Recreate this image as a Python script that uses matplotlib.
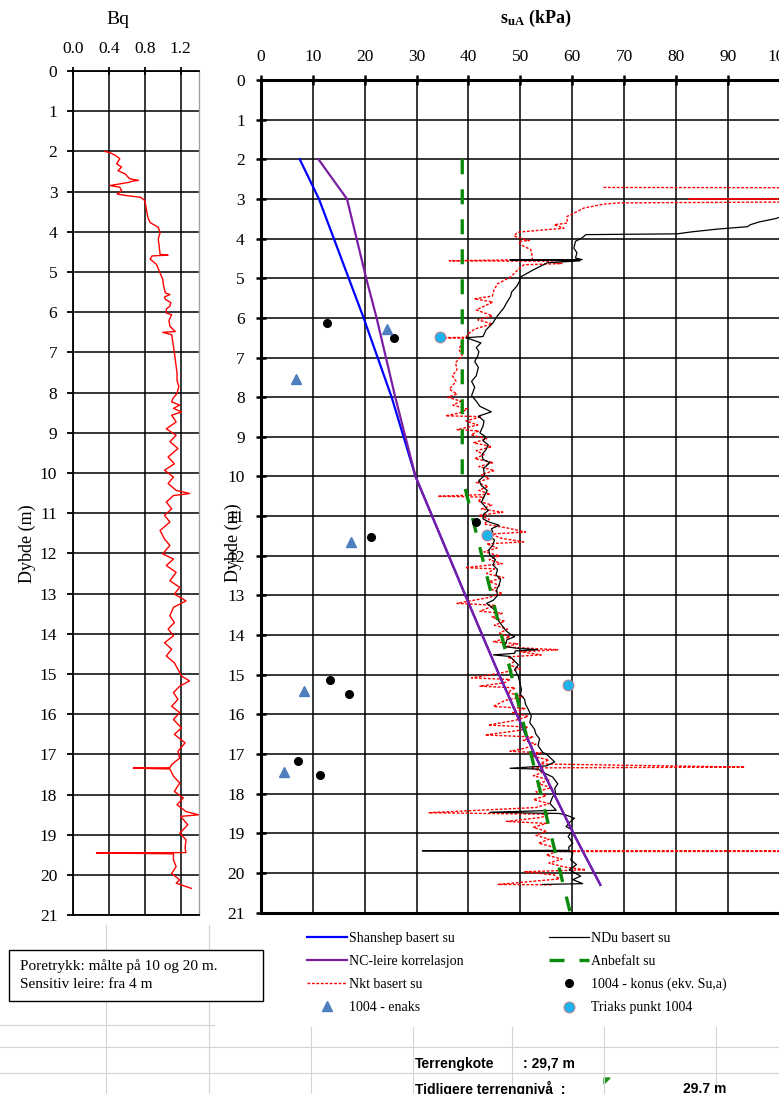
import matplotlib
matplotlib.use('Agg')
import matplotlib.pyplot as plt
from matplotlib.patches import Rectangle, Polygon

# ---------------- DATA ----------------
bq_depth = [2.00, 2.03, 2.10, 2.18, 2.31, 2.39, 2.48, 2.56, 2.68, 2.72, 2.74, 2.77, 2.85, 2.89, 2.98, 3.06, 3.10, 3.14,
            3.22, 3.35, 3.48, 3.60, 3.68, 3.77, 3.89, 4.02, 4.18, 4.35, 4.56, 4.58, 4.60, 4.68, 4.81, 5.02, 5.18, 5.35,
            5.52, 5.56, 5.62, 5.68, 5.76, 5.85, 5.92, 6.02, 6.06, 6.20, 6.35, 6.48, 6.50, 6.56, 6.70, 6.85, 7.00, 7.18,
            7.35, 7.52, 7.70, 7.85, 8.02, 8.14, 8.23, 8.31, 8.39, 8.48, 8.56, 8.73, 8.90, 9.06, 9.22, 9.39, 9.60, 9.77,
            9.93, 10.10, 10.26, 10.43, 10.51, 10.56, 10.72, 10.89, 11.05, 11.22, 11.43, 11.64, 11.80, 12.01, 12.14,
            12.30, 12.47, 12.68, 12.84, 13.01, 13.18, 13.34, 13.55, 13.72, 13.88, 14.05, 14.22, 14.38, 14.55, 14.72,
            14.88, 15.05, 15.17, 15.30, 15.46, 15.63, 15.80, 15.96, 16.13, 16.34, 16.50, 16.71, 16.92, 17.09, 17.25,
            17.33, 17.34, 17.36, 17.54, 17.71, 17.92, 18.08, 18.25, 18.42, 18.50, 18.54, 18.75, 18.96, 19.12, 19.33,
            19.44, 19.45, 19.47, 19.62, 19.79, 19.96, 20.12, 20.20, 20.33]
bq_value = [0.35, 0.41, 0.47, 0.52, 0.485, 0.54, 0.50, 0.58, 0.63, 0.73, 0.66, 0.62, 0.41, 0.52, 0.54, 0.49, 0.60, 0.75,
            0.80, 0.81, 0.82, 0.83, 0.84, 0.86, 0.95, 0.97, 0.95, 0.96, 0.97, 1.06, 0.88, 0.86, 0.93, 0.97, 1.00, 1.01,
            1.03, 1.08, 1.02, 1.03, 1.09, 1.08, 1.04, 1.04, 1.10, 1.07, 1.08, 1.14, 1.00, 1.10, 1.11, 1.12, 1.13, 1.14,
            1.15, 1.16, 1.16, 1.18, 1.16, 1.115, 1.10, 1.19, 1.12, 1.21, 1.10, 1.15, 1.04, 1.15, 1.08, 1.17, 1.06, 1.13,
            1.02, 1.12, 1.06, 1.15, 1.30, 1.12, 1.04, 1.10, 1.02, 1.08, 0.97, 1.02, 1.08, 1.00, 1.12,
            1.04, 1.15, 1.08, 1.19, 1.13, 1.26, 1.12, 1.08, 1.13, 1.06, 1.12, 1.02, 1.10, 1.04, 1.13,
            1.17, 1.21, 1.30, 1.19, 1.12, 1.17, 1.10, 1.19, 1.12, 1.21, 1.13, 1.25, 1.17, 1.19, 1.10,
            1.08, 0.67, 1.08, 1.12, 1.19, 1.13, 1.23, 1.16, 1.26, 1.40, 1.20, 1.28, 1.19, 1.26, 1.25,
            1.26, 0.26, 1.12, 1.12, 1.15, 1.10, 1.19, 1.15, 1.32]

shanshep_depth = [2.0, 3.0, 6.0, 8.0, 10.0, 13.0, 15.0, 17.0, 19.0, 20.3]
shanshep_su = [7.5, 11.2, 19.8, 25.2, 29.8, 39.4, 45.9, 52.7, 60.2, 65.4]

nc_depth = [2.0, 3.0, 5.0, 6.0, 8.0, 10.0, 13.0, 15.0, 17.0, 19.0, 20.3]
nc_su = [11.1, 16.6, 20.3, 22.3, 25.9, 29.8, 39.4, 45.9, 52.7, 60.2, 65.4]

anbefalt_depth = [2.0, 10.0, 21.0]
anbefalt_su = [38.8, 38.8, 59.6]

ndu_depth = [3.44, 3.50, 3.58, 3.65, 3.70, 3.76, 3.83, 3.88, 3.90, 3.98, 4.07, 4.24, 4.36, 4.49, 4.53, 4.54, 4.56,
             4.61, 4.78, 4.97, 5.08, 5.20, 5.35, 5.46, 5.63, 5.75, 5.88, 6.00, 6.13, 6.30, 6.47, 6.50, 6.52, 6.63,
             6.75, 6.85, 6.96, 7.10, 7.25, 7.46, 7.60, 7.75, 7.96, 8.10, 8.23, 8.37, 8.48, 8.60, 8.73, 8.90, 9.00,
             9.10, 9.20, 9.32, 9.45, 9.57, 9.65, 9.80, 9.98, 10.10, 10.23, 10.35, 10.48, 10.65, 10.86, 10.95, 11.07,
             11.15, 11.23, 11.32, 11.40, 11.48, 11.60, 11.73, 11.85, 11.98, 12.10, 12.23, 12.35, 12.48, 12.60, 12.73,
             12.87, 13.00, 13.12, 13.20, 13.37, 13.50, 13.62, 13.80, 13.90, 14.00, 14.04, 14.12, 14.29, 14.33, 14.37,
             14.40, 14.46, 14.50, 14.54, 14.58, 14.75, 14.87, 15.04, 15.21, 15.37, 15.50, 15.62, 15.75, 15.87, 16.04,
             16.21, 16.37, 16.50, 16.62, 16.79, 16.96, 17.00, 17.10, 17.20, 17.30, 17.36, 17.38, 17.46, 17.58, 17.75,
             17.87, 18.00, 18.08, 18.25, 18.42, 18.47, 18.50, 18.54, 18.62, 18.72, 18.83, 18.92, 19.08, 19.25, 19.35,
             19.43, 19.44, 19.46, 19.50, 19.67, 19.79, 19.92, 20.00, 20.08, 20.17, 20.27, 20.29]
ndu_su = [100.5, 99.0, 96.0, 94.3, 93.7, 88.0, 83.0, 80.2, 62.6, 61.9, 60.6, 60.3, 60.9, 60.6, 61.9, 48.0, 61.5,
          55.2, 52.6, 50.0, 49.8, 49.3, 48.3, 48.1, 47.3, 46.8, 46.0, 45.3, 44.7, 43.4, 42.8, 39.5, 40.0, 42.4,
          41.5, 42.0, 41.8, 41.2, 41.9, 41.5, 40.6, 41.2, 40.6, 41.5, 42.2, 44.4, 41.9, 43.0, 42.8, 42.2, 43.3,
          42.8, 43.8, 43.4, 42.6, 42.8, 44.1, 42.9, 43.1, 42.0, 42.5, 43.6, 43.1, 42.5, 43.8, 42.9, 42.8,
          44.0, 45.9, 44.4, 44.7, 43.8, 45.0, 44.7, 43.9, 44.1, 45.2, 44.7, 45.6, 45.3, 46.2, 45.9,
          45.4, 45.6, 44.8, 43.5, 45.1, 45.5, 45.7, 46.7, 47.3, 48.3, 48.9, 47.4, 47.0, 49.2, 53.4,
          49.0, 48.9, 44.8, 48.0, 48.3, 49.6, 48.9, 49.6, 49.9, 50.2, 50.0, 50.8, 51.0, 51.5, 52.1,
          51.8, 52.7, 53.0, 53.7, 53.4, 54.3, 55.0, 55.8, 56.6, 55.0, 48.0, 53.5, 54.3, 56.2, 57.2,
          56.6, 56.8, 56.2, 55.7, 56.9, 44.1, 57.5, 58.8, 60.4, 59.5, 58.8, 60.1, 59.2, 60.1, 59.3,
          59.4, 31.1, 59.8, 60.1, 59.7, 60.8, 59.4, 60.5, 61.6, 60.1, 62.0, 54.3]

nkt_depth = [2.71, 2.72, 2.98, 3.00, 3.02, 3.07, 3.08, 3.10, 3.13, 3.23, 3.36, 3.44, 3.61, 3.65, 3.74, 3.78, 3.84,
             3.94, 4.05, 4.07, 4.15, 4.28, 4.45, 4.53, 4.56, 4.57, 4.63, 4.66, 4.80, 4.97, 5.14, 5.30, 5.45, 5.52,
             5.60, 5.80, 5.95, 6.05, 6.15, 6.28, 6.40, 6.49, 6.50, 6.51, 6.65, 6.80, 6.95, 7.13, 7.30, 7.46, 7.60,
             7.80, 7.92, 8.00, 8.10, 8.20, 8.30, 8.40, 8.47, 8.49, 8.60, 8.70, 8.82, 8.85, 8.95, 9.05, 9.15, 9.25,
             9.35, 9.45, 9.55, 9.65, 9.75, 9.85, 9.95, 10.05, 10.15, 10.25, 10.35, 10.45, 10.50, 10.52, 10.62,
             10.72, 10.82, 10.90, 10.98, 11.08, 11.20, 11.30, 11.40, 11.45, 11.55, 11.65, 11.70, 11.80, 11.90,
             12.00, 12.10, 12.20, 12.30, 12.33, 12.45, 12.55, 12.65, 12.75, 12.85, 12.95, 13.05, 13.20, 13.25,
             13.40, 13.45, 13.55, 13.65, 13.75, 13.85, 13.95, 14.05, 14.17, 14.22, 14.30, 14.37, 14.42, 14.50,
             14.55, 14.65, 14.75, 14.85, 14.95, 15.08, 15.12, 15.20, 15.29, 15.33, 15.45, 15.55, 15.65, 15.80,
             15.85, 15.95, 16.05, 16.15, 16.27, 16.32, 16.40, 16.52, 16.57, 16.65, 16.75, 16.85, 16.93, 16.97,
             17.05, 17.15, 17.25, 17.33, 17.35, 17.45, 17.55, 17.65, 17.75, 17.85, 17.95, 18.05, 18.15, 18.25,
             18.35, 18.48, 18.52, 18.60, 18.70, 18.75, 18.85, 18.95, 19.05, 19.15, 19.25, 19.35, 19.44, 19.445,
             19.455, 19.46, 19.55, 19.65, 19.75, 19.85, 19.92, 19.97, 20.05, 20.15, 20.29, 20.30]
nkt_su = [66.0, 120.0, 120.0, 82.4, 120.0, 120.0, 97.5, 68.7, 66.1, 62.2, 60.3, 59.0, 59.0, 56.5, 58.4, 54.6, 49.4,
          48.8, 51.7, 49.7, 50.0, 52.0, 52.3, 52.3, 36.3, 54.9, 58.0, 50.7, 49.4, 48.1, 45.6, 44.9, 44.6, 41.1,
          44.7, 41.5, 44.6, 41.8, 44.6, 41.2, 40.0, 39.5, 34.7, 39.0, 38.6, 38.2, 38.8, 37.5, 37.8, 36.9, 37.6,
          36.3, 37.8, 36.0, 38.5, 37.0, 39.8, 38.2, 35.6, 42.5, 39.5, 41.8, 37.8, 42.0, 40.5, 43.5, 41.0, 44.5,
          41.5, 43.0, 41.2, 44.8, 42.0, 45.0, 42.5, 44.0, 41.5, 43.8, 42.0, 44.2, 34.1, 43.0, 41.8,
          44.5, 42.5, 46.6, 42.0, 44.0, 43.0, 47.5, 51.0, 44.5, 46.0, 50.6, 43.5, 45.5, 43.0,
          46.0, 44.0, 46.5, 39.4, 45.0, 43.5, 46.8, 44.0, 46.0, 44.5, 46.5, 44.0, 37.8, 45.0,
          42.2, 46.5, 44.5, 47.0, 45.0, 47.5, 46.0, 48.0, 44.8, 49.5, 47.0, 57.2, 50.0, 54.0,
          47.5, 49.0, 47.8, 50.0, 46.5, 40.6, 48.0, 47.0, 42.2, 49.0, 47.5, 50.5, 47.0, 44.8,
          51.0, 48.5, 51.5, 49.0, 43.8, 51.5, 50.0, 43.2, 52.5, 50.5, 53.0, 51.0, 48.0, 54.0,
          52.0, 55.5, 53.5, 93.2, 52.0, 54.5, 52.5, 55.5, 53.5, 56.0, 53.0, 55.0, 52.5, 55.5,
          53.0, 32.3, 55.5, 54.0, 47.3, 55.0, 52.5, 55.0, 53.0, 55.5, 53.5, 56.5, 56.9, 120.0,
          120.0, 57.0, 55.0, 58.0, 55.5, 58.5, 62.6, 50.8, 56.5, 57.5, 45.7, 56.0]

konus_su = [12.8, 25.6, 41.4, 21.3, 13.3, 16.9, 7.2, 11.4]
konus_depth = [6.14, 6.50, 11.14, 11.52, 15.13, 15.48, 17.17, 17.52]

enaks_su = [24.4, 6.8, 17.4, 8.3, 4.4]
enaks_depth = [6.28, 7.55, 11.66, 15.41, 17.46]

triaks_su = [34.6, 43.6, 59.2]
triaks_depth = [6.49, 11.48, 15.25]

bq_ticks = [0.0, 0.4, 0.8, 1.2]
bq_ticklabels = ['0.0', '0.4', '0.8', '1.2']
su_ticks = list(range(0, 101, 10))
depth_ticks = list(range(0, 22))

# ---------------- FIGURE ----------------
plt.rcParams['font.family'] = ['Liberation Serif', 'DejaVu Serif']
plt.rcParams['mathtext.fontset'] = 'custom'
plt.rcParams['mathtext.rm'] = 'Liberation Serif'
plt.rcParams['mathtext.bf'] = 'Liberation Serif:bold'

W, H = 779, 1094
fig = plt.figure(figsize=(W / 100, H / 100), dpi=100)
fig.patch.set_facecolor('white')


def fx(px):
    return px / W


def fy(py):
    return 1 - py / H


# background spreadsheet layer (pixel coordinates)
bg = fig.add_axes([0, 0, 1, 1], zorder=-5)
bg.set_xlim(0, W)
bg.set_ylim(H, 0)
bg.axis('off')
gcol = '#d4d4d4'
for x in [106, 209]:
    bg.plot([x, x], [925, H], color=gcol, lw=0.8)
bg.plot([0, 214], [1025, 1025], color=gcol, lw=0.8)
for y in [1047, 1073]:
    bg.plot([0, W], [y, y], color=gcol, lw=0.8)
for x in [311, 413, 512, 604, 716]:
    bg.plot([x, x], [1027, H], color=gcol, lw=0.8)

bg.add_patch(Rectangle((9, 950), 254, 51, facecolor='white', edgecolor='black', lw=1.0, zorder=3))
bg.text(20, 966, 'Poretrykk: målte på 10 og 20 m.', fontsize=11, va='center', ha='left', zorder=4)
bg.text(20, 985, 'Sensitiv leire: fra 4 m', fontsize=11, va='center', ha='left', zorder=4)

sans = ['Liberation Sans', 'DejaVu Sans']
bg.text(415, 1064, 'Terrengkote', fontsize=10, family=sans, fontweight='bold', va='center')
bg.text(523, 1064, ': 29,7 m', fontsize=10, family=sans, fontweight='bold', va='center')
bg.text(415, 1089, 'Tidligere terrengnivå  :', fontsize=10, family=sans, fontweight='bold', va='center')
bg.text(683, 1089, '29.7 m', fontsize=10, family=sans, fontweight='bold', va='center')
bg.add_patch(Polygon([[604, 1078], [610, 1078], [604, 1084]], closed=True, color='#1a8f1a'))

# ---------------- LEFT AXES (Bq) ----------------
axL = fig.add_axes([fx(73.3), fy(915.3), fx(198.5 - 73.3), (915.3 - 71) / H])
axL.plot(bq_value, bq_depth, color='red', lw=1.0, zorder=3)
axL.set_xlim(0, 1.4)
axL.set_ylim(21, 0)
axL.set_xticks(bq_ticks)
axL.set_xticklabels(bq_ticklabels)
axL.set_yticks(depth_ticks)
axL.xaxis.tick_top()
axL.grid(True, color='black', lw=1.1, zorder=1)
axL.set_axisbelow(True)
axL.tick_params(axis='x', direction='inout', length=6, width=1.3, pad=7, labelsize=12.5)
axL.tick_params(axis='y', direction='out', length=4.5, width=1.3, pad=7, labelsize=12.5)
for s in ['left', 'top', 'bottom']:
    axL.spines[s].set_linewidth(1.3)
axL.spines['right'].set_color('#a0a0a0')
axL.spines['right'].set_linewidth(1.0)

fig.text(fx(118), fy(20), 'Bq', fontsize=14, ha='center', va='center')
fig.text(fx(27), fy(544), 'Dybde (m)', fontsize=13, rotation=90, ha='center', va='center')

# ---------------- RIGHT AXES (su) ----------------
axR = fig.add_axes([fx(260.8), fy(912.6), fx(780 - 260.8), (912.6 - 80) / H])
h_nkt, = axR.plot(nkt_su, nkt_depth, color='red', lw=1.0, ls=(0, (2, 1.2)), zorder=2, label='Nkt basert su')
h_ndu, = axR.plot(ndu_su, ndu_depth, color='black', lw=0.9, zorder=3, label='NDu basert su')
h_sh, = axR.plot(shanshep_su, shanshep_depth, color='#0000ff', lw=1.6, zorder=4, label='Shanshep basert su')
h_nc, = axR.plot(nc_su, nc_depth, color='#7b1fa2', lw=1.6, zorder=5, label='NC-leire korrelasjon')
h_an, = axR.plot(anbefalt_su, anbefalt_depth, color='#0a8a0a', lw=2.4, ls=(0, (4.5, 4.5)), zorder=6,
                 label='Anbefalt su')
h_ko, = axR.plot(konus_su, konus_depth, ls='none', marker='o', ms=5.5, color='black', zorder=7,
                 label='1004 - konus (ekv. Su,a)')
h_en, = axR.plot(enaks_su, enaks_depth, ls='none', marker='^', ms=6.5, color='#4f7fbf', zorder=7,
                 label='1004 - enaks')
h_tr, = axR.plot(triaks_su, triaks_depth, ls='none', marker='o', ms=8, markerfacecolor='#1fb2ea',
                 markeredgecolor='#e07a7a', markeredgewidth=0.6, zorder=8, label='Triaks punkt 1004')
axR.set_xlim(0, 100)
axR.set_ylim(21, 0)
axR.set_xticks(su_ticks)
axR.set_yticks(depth_ticks)
axR.xaxis.tick_top()
axR.grid(True, color='black', lw=1.1, zorder=1)
axR.set_axisbelow(True)
axR.tick_params(axis='x', direction='inout', length=7, width=1.8, pad=7, labelsize=12.5)
axR.tick_params(axis='y', direction='inout', length=7, width=1.8, pad=8, labelsize=12.5)
for s in ['left', 'top', 'bottom']:
    axR.spines[s].set_linewidth(2.2)

fig.text(fx(536), fy(18), r'$\mathbf{s_{uA}}$ (kPa)', fontsize=13, fontweight='bold', ha='center', va='center')
fig.text(fx(233), fy(543), 'Dybde (m)', fontsize=13, rotation=90, ha='center', va='center')

# ---------------- LEGEND ----------------
leg_kw = dict(frameon=False, fontsize=10, handlelength=2.9, handletextpad=0.15, labelspacing=0.72,
              borderpad=0, borderaxespad=0, loc='upper left')
fig.legend([h_sh, h_nc, h_nkt, h_en], [h.get_label() for h in [h_sh, h_nc, h_nkt, h_en]],
           bbox_to_anchor=(fx(307), fy(932)), **leg_kw)
fig.legend([h_ndu, h_an, h_ko, h_tr], [h.get_label() for h in [h_ndu, h_an, h_ko, h_tr]],
           bbox_to_anchor=(fx(549), fy(932)), **leg_kw)

fig.savefig('out.png', dpi=100)
